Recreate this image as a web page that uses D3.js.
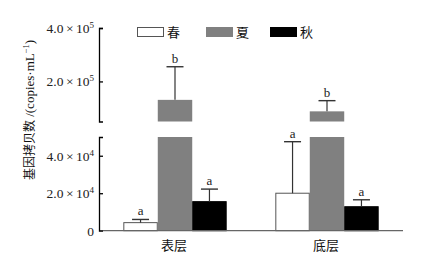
<!DOCTYPE html>
<html><head><meta charset="utf-8">
<script src="https://cdn.jsdelivr.net/npm/d3@7"></script>
<style>
html,body{margin:0;padding:0;background:#fff;}
svg{display:block;}
.serif{font-family:"Liberation Serif","DejaVu Serif",serif;}
.cjk{font-family:"Noto Sans CJK SC","Noto Sans CJK JP",sans-serif;}
</style></head>
<body>
<svg id="c" width="434" height="256"></svg>
<script>
const groups = ["表层", "底层"];
const seasons = ["春", "夏", "秋"];
const meanSpring = [4300, 20000];
const meanSummer = [131000, 88000];
const meanAutumn = [15500, 12800];
const errTopSpring = [6000, 47500];
const errTopSummer = [255000, 128000];
const errTopAutumn = [22200, 16500];
const lettersSpring = ["a", "a"];
const lettersSummer = ["b", "b"];
const lettersAutumn = ["a", "a"];
const upperTicks = [2e5, 4e5];
const lowerTicks = [0, 2e4, 4e4];
const breakValue = 5e4;
const upperMax = 4e5;

const fills = {"春": "#ffffff", "夏": "#808080", "秋": "#000000"};
const strokes = {"春": "#555", "夏": "#808080", "秋": "#000"};

const rows = [];
groups.forEach((g, i) => {
  rows.push({g, s: "春", v: meanSpring[i], e: errTopSpring[i], l: lettersSpring[i]});
  rows.push({g, s: "夏", v: meanSummer[i], e: errTopSummer[i], l: lettersSummer[i]});
  rows.push({g, s: "秋", v: meanAutumn[i], e: errTopAutumn[i], l: lettersAutumn[i]});
});

const svg = d3.select("#c");
const X0 = 99, X1 = 403;
const x = d3.scaleBand().domain(groups).range([X0, X1]).paddingInner(0.32).paddingOuter(0.16);
const xs = d3.scaleBand().domain(seasons).range([0, x.bandwidth()]);
const yLow = d3.scaleLinear().domain([0, breakValue]).range([230.7, 137]);
const yUp = d3.scaleLinear().domain([breakValue, upperMax]).range([121.5, 28]);
const yPos = v => v > breakValue ? yUp(v) : yLow(v);

// bars
rows.forEach(d => {
  const bx = x(d.g) + xs(d.s), bw = xs.bandwidth();
  if (d.v > breakValue) {
    svg.append("rect").attr("x", bx).attr("width", bw)
      .attr("y", yLow(breakValue)).attr("height", yLow(0) - yLow(breakValue))
      .attr("fill", fills[d.s]);
    svg.append("rect").attr("x", bx).attr("width", bw)
      .attr("y", yUp(d.v)).attr("height", yUp(breakValue) - yUp(d.v))
      .attr("fill", fills[d.s]);
  } else {
    svg.append("rect").attr("x", bx + 0.5).attr("width", bw - 1)
      .attr("y", yLow(d.v)).attr("height", yLow(0) - yLow(d.v))
      .attr("fill", fills[d.s]).attr("stroke", strokes[d.s]).attr("stroke-width", 1);
  }
  const cx = bx + bw / 2;
  const yt = yPos(d.e);
  svg.append("line").attr("x1", cx).attr("x2", cx).attr("y1", yPos(d.v)).attr("y2", yt)
    .attr("stroke", "#333").attr("stroke-width", 1.2);
  svg.append("line").attr("x1", cx - 8.5).attr("x2", cx + 8.5).attr("y1", yt).attr("y2", yt)
    .attr("stroke", "#333").attr("stroke-width", 1.4);
  svg.append("text").attr("class", "serif").attr("x", cx).attr("y", yt - 4).attr("text-anchor", "middle")
    .style("font-size", "13px").attr("fill", "#222").text(d.l);
});

// x axis baseline
svg.append("line").attr("x1", X0).attr("x2", X1).attr("y1", yLow(0)).attr("y2", yLow(0))
  .attr("stroke", "#666").attr("stroke-width", 1.3);

function sciLabel(sel, exp) {
  sel.each(function(v) {
    const t = d3.select(this);
    t.text(null);
    if (v === 0) { t.text("0"); return; }
    const m = (v / Math.pow(10, exp)).toFixed(1);
    t.append("tspan").text(m);
    t.append("tspan").attr("dx", 2.5).text("×");
    t.append("tspan").attr("dx", 2.5).text("10");
    t.append("tspan").attr("dy", -5).style("font-size", "9px").text(exp);
  });
}

function styleAxis(g) {
  g.attr("font-family", null).attr("font-size", null);
  g.select(".domain").attr("stroke", "#000").attr("stroke-width", 1.3);
  g.selectAll(".tick line").attr("stroke", "#000").attr("stroke-width", 1.3);
  g.selectAll(".tick text").attr("class", "serif").style("font-size", "13.5px").attr("fill", "#222");
}

const gUp = svg.append("g").attr("transform", `translate(${X0},0)`)
  .call(d3.axisLeft(yUp).tickValues(upperTicks).tickSize(-4).tickSizeOuter(-4).tickPadding(5));
styleAxis(gUp);
gUp.selectAll(".tick text").call(sciLabel, 5);

const gLow = svg.append("g").attr("transform", `translate(${X0},0)`)
  .call(d3.axisLeft(yLow).tickValues(lowerTicks).tickSize(-4).tickSizeOuter(-4).tickPadding(5));
styleAxis(gLow);
gLow.selectAll(".tick text").call(sciLabel, 4);
gLow.selectAll(".tick").filter(d => d === 0).select("line").remove();

// group labels
groups.forEach(g => {
  svg.append("text").attr("class", "cjk").attr("x", x(g) + x.bandwidth() / 2 - 1).attr("y", 250)
    .attr("text-anchor", "middle").style("font-size", "13px")
    .attr("fill", "#111").text(g);
});

// legend
const legX = [137, 206, 270];
seasons.forEach((s, i) => {
  svg.append("rect").attr("x", legX[i] + 0.5).attr("y", 27.5).attr("width", 26).attr("height", 9)
    .attr("fill", fills[s]).attr("stroke", strokes[s]).attr("stroke-width", 1);
  svg.append("text").attr("class", "cjk").attr("x", legX[i] + 30).attr("y", 37)
    .style("font-size", "13px").attr("fill", "#111").text(s);
});

// y label
const yl = svg.append("text").attr("transform", "translate(34,110) rotate(-90)")
  .attr("text-anchor", "middle").attr("fill", "#111");
yl.append("tspan").attr("class", "cjk").style("font-size", "12px").text("基因拷贝数");
yl.append("tspan").attr("class", "serif").style("font-size", "13px").text(" /(copies·mL");
yl.append("tspan").attr("class", "serif").style("font-size", "8.5px").attr("dy", -5).text("−1");
yl.append("tspan").attr("class", "serif").style("font-size", "13px").attr("dy", 5).text(")");
</script>
</body></html>
